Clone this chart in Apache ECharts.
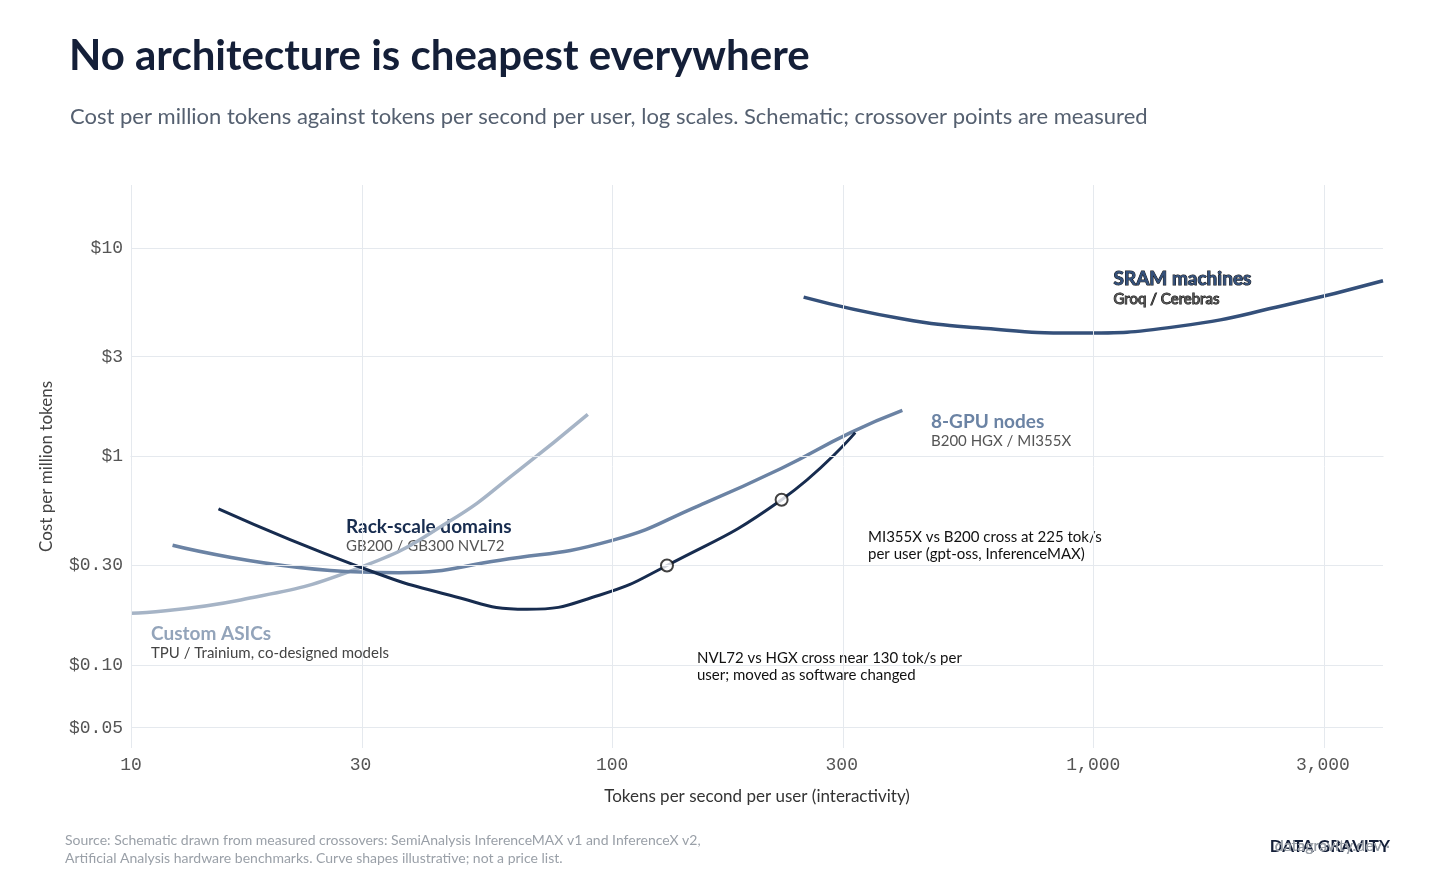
<!DOCTYPE html>
<html><head><meta charset="utf-8">
<script src="https://cdn.jsdelivr.net/npm/echarts@6/dist/echarts.min.js"></script>
<style>html,body{margin:0;background:#fff}#c{width:1456px;height:880px}</style>
</head><body><div id="c"></div>
<script>
const xTicks=[10,30,100,300,1000,3000];
const xTickLabels=['10','30','100','300','1,000','3,000'];
const yTicks=[0.05,0.1,0.3,1,3,10];
const yTickLabels=['$0.05','$0.10','$0.30','$1','$3','$10'];
const sram=[[250,5.8],[400,4.57],[600,4.1],[920,3.9],[1500,4.2],[2500,5.3],[4000,6.95]];
const asic=[[10,0.177],[16.9,0.205],[30,0.294],[46,0.49],[64,0.86],[89,1.59]];
const rack=[[15.2,0.56],[30,0.294],[46,0.216],[66.5,0.185],[94,0.216],[130,0.30],[225,0.62],[320,1.30]];
const gpu=[[12.2,0.375],[30,0.279],[36,0.277],[58.5,0.318],[100,0.396],[152,0.583],[225,0.877],[313,1.30],[401,1.66]];
const markers=[[130,0.30],[225,0.62]];
const L=Math.log10;
const tr=a=>a.map(p=>[L(p[0]),L(p[1])]);
const F='Lato, "Noto Sans", sans-serif';
const ch=echarts.init(document.getElementById('c'));
const xl={},yl={};xTicks.forEach((v,i)=>xl[L(v).toFixed(4)]=xTickLabels[i]);yTicks.forEach((v,i)=>yl[L(v).toFixed(4)]=yTickLabels[i]);
const line=(d,c,w)=>({type:'line',data:tr(d),smooth:0.5,symbol:'none',lineStyle:{color:c,width:w},silent:true,z:3});
ch.setOption({
 animation:false,
 title:[{text:'No architecture is cheapest everywhere',left:64,top:30,textStyle:{fontFamily:F,fontSize:42,fontWeight:'bold',color:'#141f38'}},
  {text:'Cost per million tokens against tokens per second per user, log scales. Schematic; crossover points are measured',left:65,top:101,textStyle:{fontFamily:F,fontSize:22,fontWeight:'normal',color:'#556070'}}],
 grid:{left:131,right:73,top:185,bottom:132},
 xAxis:{type:'value',min:1,max:L(4000),name:'Tokens per second per user (interactivity)',nameLocation:'middle',nameGap:40,nameTextStyle:{fontFamily:F,fontSize:17,color:'#333'},
  axisLine:{lineStyle:{color:'#dde2e8'}},axisTick:{show:false},splitLine:{show:false},
  axisLabel:{customValues:xTicks.map(L),formatter:v=>xl[v.toFixed(4)]||'',fontFamily:'"Liberation Mono", monospace',fontSize:18,color:'#555',margin:8}},
 yAxis:{type:'value',min:L(0.04),max:L(20),name:'Cost per million tokens',nameLocation:'middle',nameGap:76,nameTextStyle:{fontFamily:F,fontSize:17,color:'#444'},
  axisLine:{show:false},axisTick:{show:false},splitLine:{show:false},
  axisLabel:{customValues:yTicks.map(L),formatter:v=>yl[v.toFixed(4)]||'',fontFamily:'"Liberation Mono", monospace',fontSize:18,color:'#555',margin:8}},
 series:[
  {type:'line',data:[],silent:true,markLine:{silent:true,symbol:'none',label:{show:false},lineStyle:{color:'#e5e9ee',width:1,type:'solid'},
    data:[...xTicks.map(v=>({xAxis:L(v)})),...yTicks.map(v=>({yAxis:L(v)})),{xAxis:1}]}},
  line(asic,'#a6b4c6',3.5),
  line(gpu,'#6b83a4',3.5),
  line(sram,'#34507a',3.5),
  line(rack,'#172c4f',3),
  {type:'scatter',data:tr(markers),symbol:'circle',symbolSize:12,itemStyle:{color:'#fff',borderColor:'#111',borderWidth:2},z:5,silent:true}
 ],
 graphic:[
  {type:'text',left:1113,top:269,style:{text:'SRAM machines',font:'bold 19px '+F,fill:'#34507a'}},
  {type:'text',left:1113,top:291,style:{text:'Groq / Cerebras',font:'15px '+F,fill:'#555'}},
  {type:'text',left:931,top:412,style:{text:'8-GPU nodes',font:'bold 19px '+F,fill:'#6b83a4'}},
  {type:'text',left:931,top:434,style:{text:'B200 HGX / MI355X',font:'15px '+F,fill:'#555'}},
  {type:'text',left:346,top:517,style:{text:'Rack-scale domains',font:'bold 19px '+F,fill:'#172c4f'}},
  {type:'text',left:346,top:539,style:{text:'GB200 / GB300 NVL72',font:'15px '+F,fill:'#555'}},
  {type:'text',left:151,top:624,style:{text:'Custom ASICs',font:'bold 19px '+F,fill:'#93a4ba'}},
  {type:'text',left:151,top:646,style:{text:'TPU / Trainium, co-designed models',font:'15px '+F,fill:'#444'}},
  {type:'text',left:868,top:529,style:{text:'MI355X vs B200 cross at 225 tok/s\nper user (gpt-oss, InferenceMAX)',font:'15px '+F,fill:'#111',lineHeight:17}},
  {type:'text',left:697,top:650,style:{text:'NVL72 vs HGX cross near 130 tok/s per\nuser; moved as software changed',font:'15px '+F,fill:'#111',lineHeight:17}},
  {type:'text',left:65,top:831,style:{text:'Source: Schematic drawn from measured crossovers: SemiAnalysis InferenceMAX v1 and InferenceX v2,\nArtificial Analysis hardware benchmarks. Curve shapes illustrative; not a price list.',font:'14px '+F,fill:'#9aa0a8',lineHeight:18}},
  {type:'text',right:66,top:838,style:{text:'datagravity.dev ·',font:'16px '+F,fill:'#9aa0a8'},z:10},
  {type:'text',right:66,top:838,style:{text:'DATA GRAVITY',font:'bold 17px '+F,fill:'#141f38'}}
 ]
});
// leader lines from markers to annotation text
const p1=ch.convertToPixel('grid',[L(130),L(0.30)]), p2=ch.convertToPixel('grid',[L(225),L(0.62)]);
ch.setOption({graphic:[
 {type:'text',right:66,top:838,style:{text:'datagravity.dev ·',font:'16px '+F,fill:'#9aa0a8'},id:'dg1'},
 {type:'line',shape:{x1:p1[0],y1:p1[1],x2:798,y2:645},style:{stroke:'#111',lineWidth:1},z:4},
 {type:'line',shape:{x1:p2[0],y1:p2[1],x2:868,y2:522},style:{stroke:'#111',lineWidth:1},z:4}
]});
</script></body></html>
